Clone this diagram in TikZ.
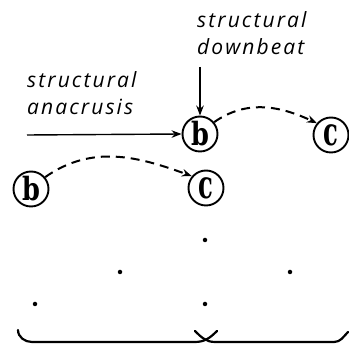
\documentclass[tikz,border=0pt]{standalone}
\usepackage{fontspec}
\newfontfamily\hand{Open Sans}[LetterSpace=10]
\newfontfamily\beatfont{DejaVu Serif}
\usetikzlibrary{arrows.meta}
\tikzset{
  lbl/.style={anchor=base west, inner sep=0pt, font=\hand\itshape\fontsize{21}{21}\selectfont},
  beat/.style={circle, draw, line width=1.9pt, minimum size=35pt, inner sep=0pt},
  dotmark/.style={circle, fill, inner sep=0pt, minimum size=4.5pt},
  arr/.style={line width=1.4pt, -{Stealth[length=10pt,width=7.5pt]}},
  darr/.style={line width=2pt, dash pattern=on 9pt off 6pt, -{Stealth[length=10pt,width=7.5pt]}},
  brace/.style={line width=2.2pt, line cap=round}
}
\newcommand{\bletter}{\scalebox{0.8}[1.0]{\beatfont\fontsize{32}{32}\selectfont\bfseries b}}
\newcommand{\cletter}{\scalebox{0.9}[1.45]{\beatfont\fontsize{27}{27}\selectfont\bfseries c}}
\begin{document}
\begin{tikzpicture}[x=1pt,y=-1pt]
\useasboundingbox (0,0) rectangle (349,347);
% labels
\node[lbl] (dbA) at (197,28) {structural};
\node[lbl] (dbB) at (197,55) {downbeat};
\node[lbl] (anA) at (27,88) {structural};
\node[lbl] (anB) at (27,115) {anacrusis};
% beats
\node[beat] (bU) at (200,134) {\bletter};
\node[beat] (cU) at (331,135) {\cletter};
\node[beat] (bL) at (31,189) {\bletter};
\node[beat] (cL) at (206,188) {\cletter};
% dots
\node[dotmark] (d1) at (205,240) {};
\node[dotmark] (d2) at (120,272) {};
\node[dotmark] (d3) at (290,272) {};
\node[dotmark] (d4) at (35,304) {};
\node[dotmark] (d5) at (205,304) {};
% arrows
\coordinate (dbTail) at (200,67);
\coordinate (anTail) at (27,135);
\draw[arr] (dbTail) -- (bU.north);
\draw[arr] (anTail) -- (bU.west);
\draw[darr] (bU.40) to[out=35,in=155] (cU.140);
\draw[darr] (bL.40) to[out=35,in=160] (cL.140);
% braces
\draw[brace] (18,330) to[out=-90,in=180] (32,342) -- (195,342) to[out=0,in=-135] (217,331);
\draw[brace] (195,331) to[out=-45,in=180] (215,342) -- (334,342) to[out=0,in=-135] (348,332);
\end{tikzpicture}
\end{document}
